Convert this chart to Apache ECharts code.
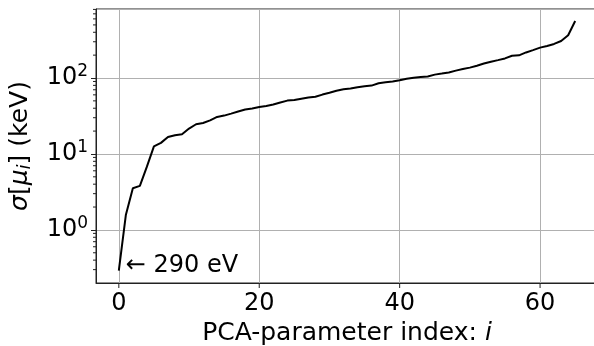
<!DOCTYPE html>
<html>
<head>
<meta charset="utf-8">
<script src="https://cdn.jsdelivr.net/npm/echarts@6/dist/echarts.min.js"></script>
<style>
  html, body { margin: 0; padding: 0; background: #fff; }
  #main { width: 594px; height: 346px; }
</style>
</head>
<body>
<div id="main"></div>
<script>
// PCA parameter index and sigma (keV)
var idx = [];
for (var k = 0; k <= 65; k++) idx.push(k);
var sigma = [
  0.29, 1.57, 3.54, 3.8, 6.8, 12.6, 14.0, 16.7, 17.6, 18.2,
  21.6, 24.6, 25.6, 27.7, 30.7, 32.0, 34.0, 36.2, 38.4, 39.6,
  41.5, 42.8, 44.7, 47.5, 50.4, 51.2, 53.2, 55.2, 56.6, 60.5,
  63.9, 67.9, 71.0, 72.7, 75.5, 77.8, 79.4, 85.2, 87.8, 89.7,
  93.3, 97.6, 101, 103, 104.6, 110.8, 114.3, 118, 125, 131,
  137, 145, 155, 164, 172, 181, 196, 199, 217, 233,
  251, 264, 281, 307, 365, 562
];
var xTicks = [0, 20, 40, 60];
var minorTicks = [0.3, 0.4, 0.5, 0.6, 0.7, 0.8, 0.9,
  2, 3, 4, 5, 6, 7, 8, 9,
  20, 30, 40, 50, 60, 70, 80, 90,
  200, 300, 400, 500, 600, 700, 800];
var note = '\u2190 290 eV';

var xMin = -3.25, xMax = 68.25, yMin = 0.2, yMax = 810;
var font = 'DejaVu Sans';
var fs = 25;   // axis titles
var ts = 24;   // tick labels

var lineData = idx.map(function (x, i) { return [x, sigma[i]]; });

// small tick marks drawn outside the plot box
function tickItem(dx, dy, len) {
  return function (params, api) {
    var p = api.coord([api.value(0), api.value(1)]);
    return {
      type: 'line',
      shape: { x1: p[0], y1: p[1], x2: p[0] + dx * len, y2: p[1] + dy * len },
      style: { stroke: '#222', lineWidth: 1 }
    };
  };
}

var myChart = echarts.init(document.getElementById('main'));
var option = {
  animation: false,
  grid: { left: 96, right: -4, top: 9, bottom: 63, show: true, borderColor: '#222', borderWidth: 1,
    outerBoundsMode: 'none', containLabel: false },
  xAxis: {
    type: 'value', min: xMin, max: xMax, splitNumber: 3,
    name: 'PCA-parameter index: {it|i}', nameLocation: 'middle', nameGap: 37,
    nameTextStyle: { fontSize: fs, color: '#000', fontFamily: font,
      rich: { it: { fontSize: fs, fontStyle: 'italic', fontFamily: font } } },
    axisLine: { show: true, onZero: false, lineStyle: { color: '#222', width: 1 } },
    axisTick: { show: false },
    axisLabel: { fontSize: ts, color: '#000', fontFamily: font, margin: 9,
      formatter: function (v) { return v % 20 === 0 ? String(v) : ''; } },
    splitLine: { show: true, lineStyle: { color: '#b0b0b0', width: 1 } }
  },
  yAxis: {
    type: 'log', logBase: 10, min: yMin, max: yMax,
    name: '{it|σ}[{it|μ}{sub|i}] (keV)', nameLocation: 'middle', nameGap: 62,
    nameTextStyle: { fontSize: fs, color: '#000', fontFamily: font,
      rich: {
        it: { fontSize: fs, fontStyle: 'italic', fontFamily: font },
        sub: { fontSize: 18, fontStyle: 'italic', fontFamily: font, padding: [9, 0, 0, 0] }
      } },
    axisLine: { show: true, onZero: false, lineStyle: { color: '#222', width: 1 } },
    axisTick: { show: true, length: 5, lineStyle: { color: '#222' } },
    axisLabel: {
      showMinLabel: false, showMaxLabel: false, margin: 8,
      formatter: function (v) {
        var e = Math.round(Math.log(v) / Math.LN10);
        if (Math.abs(Math.pow(10, e) - v) > 1e-9 * v) return '';
        return '{b|10}{s|' + e + '}';
      },
      rich: {
        b: { fontSize: ts, color: '#000', fontFamily: font },
        s: { fontSize: 17, color: '#000', fontFamily: font, padding: [0, 0, 12, 0] }
      }
    },
    splitLine: { show: true, lineStyle: { color: '#b0b0b0', width: 1 } }
  },
  series: [
    {
      type: 'line', data: lineData, symbol: 'none',
      lineStyle: { color: '#000', width: 2 },
      markPoint: {
        symbol: 'circle', symbolSize: 0, silent: true,
        data: [{
          coord: [idx[0], sigma[0]],
          label: {
            show: true, position: 'right', distance: 7, offset: [0, -5],
            formatter: note, fontSize: 24, color: '#000', fontFamily: font
          }
        }]
      }
    },
    {
      // log minor ticks on the left axis
      type: 'custom', clip: false, silent: true,
      data: minorTicks.map(function (v) { return [xMin, v]; }),
      renderItem: tickItem(-1, 0, 3)
    },
    {
      // major ticks on the bottom axis
      type: 'custom', clip: false, silent: true,
      data: xTicks.map(function (v) { return [v, yMin]; }),
      renderItem: tickItem(0, 1, 5)
    }
  ]
};
myChart.setOption(option);
</script>
</body>
</html>
